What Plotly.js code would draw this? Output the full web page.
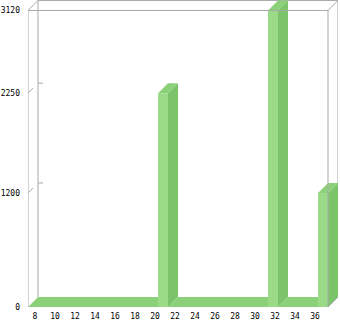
<!DOCTYPE html>
<html>
<head>
<meta charset="utf-8">
<script src="https://cdn.plot.ly/plotly-3.0.1.min.js"></script>
<style>
  html, body { margin: 0; padding: 0; background: #ffffff; }
  #chart { width: 340px; height: 321px; }
</style>
</head>
<body>
<div id="chart"></div>
<script>
// Column categories and their values
const categories = [8, 9, 10, 11, 12, 13, 14, 15, 16, 17, 18, 19, 20, 21, 22,
                    23, 24, 25, 26, 27, 28, 29, 30, 31, 32, 33, 34, 35, 36, 37];
const values = [0, 0, 0, 0, 0, 0, 0, 0, 0, 0, 0, 0, 0, 2250, 0,
                0, 0, 0, 0, 0, 0, 0, 0, 0, 3120, 0, 0, 0, 0, 1200];

// Axis ticks
const xTickVals = [8, 10, 12, 14, 16, 18, 20, 22, 24, 26, 28, 30, 32, 34, 36];
const xTickText = ['8', '10', '12', '14', '16', '18', '20', '22', '24', '26', '28', '30', '32', '34', '36'];
const yTickVals = [0, 1200, 2250, 3120];
const yTickText = ['0', '1200', '2250', '3120'];

// Extrusion of the pseudo-3D columns (in data units)
const DX = 1;      // depth along x, one category
const DY = 105;    // depth along y, in value units
const HALF = 0.5;  // half column width

const xFront0 = categories[0] - HALF;
const xFront1 = categories[categories.length - 1] + HALF;
const yTop = yTickVals[yTickVals.length - 1];

const COLORS = {
  front: '#9bdb88',
  side: '#7cc46a',
  top: '#8dd07a',
  frame: '#a9a9a9'
};

// Build one polygon per column for each face, separated by gaps
const topX = [], topY = [], sideX = [], sideY = [], frontX = [], frontY = [];
categories.forEach((c, i) => {
  const v = values[i];
  const l = c - HALF, r = c + HALF;
  topX.push(l, l + DX, r + DX, r, l, null);
  topY.push(v, v + DY, v + DY, v, v, null);
  if (v > 0) {
    sideX.push(r, r + DX, r + DX, r, r, null);
    sideY.push(0, DY, v + DY, v, 0, null);
    frontX.push(l, r, r, l, l, null);
    frontY.push(0, 0, v, v, 0, null);
  }
});

function face(x, y, color) {
  return {
    type: 'scatter', mode: 'lines', x: x, y: y,
    fill: 'toself', fillcolor: color,
    line: { width: 0, color: color },
    hoverinfo: 'skip', showlegend: false
  };
}

const traces = [
  face(topX, topY, COLORS.top),
  face(sideX, sideY, COLORS.side),
  face(frontX, frontY, COLORS.front)
];

function seg(x0, y0, x1, y1, layer) {
  return {
    type: 'line', xref: 'x', yref: 'y', x0: x0, y0: y0, x1: x1, y1: y1,
    line: { color: COLORS.frame, width: 1 }, layer: layer
  };
}

const shapes = [
  // back wall edges, behind the columns
  seg(xFront0 + DX, DY, xFront0 + DX, yTop + DY, 'below'),
  seg(xFront0 + DX, yTop + DY, xFront1 + DX, yTop + DY, 'below'),
  seg(xFront1 + DX, DY, xFront1 + DX, yTop + DY, 'below'),
  // front edges, over the columns
  seg(xFront0, 0, xFront0, yTop, 'above'),
  seg(xFront0, yTop, xFront1, yTop, 'above'),
  seg(xFront1, 0, xFront1, yTop, 'above'),
  seg(xFront0, yTop, xFront0 + DX, yTop + DY, 'above'),
  seg(xFront1, yTop, xFront1 + DX, yTop + DY, 'above'),
  seg(xFront1, 0, xFront1 + DX, DY, 'above')
];
// tick marks: short diagonal on the front edge, short dash on the back wall
yTickVals.forEach(v => {
  if (v > 0 && v < yTop) {
    shapes.push(seg(xFront0, v, xFront0 + DX * 0.5, v + DY * 0.5, 'above'));
    shapes.push(seg(xFront0 + DX, v + DY, xFront0 + DX * 1.5, v + DY, 'below'));
  }
});

const tickFont = { family: 'DejaVu Sans Mono, monospace', size: 8, color: '#000000' };

const layout = {
  width: 340, height: 321,
  margin: { l: 28, r: 2, t: 0, b: 14, pad: 0 },
  paper_bgcolor: '#ffffff', plot_bgcolor: '#ffffff',
  showlegend: false,
  xaxis: {
    range: [xFront0, xFront1 + DX],
    showgrid: false, zeroline: false, showline: false,
    tickmode: 'array', tickvals: xTickVals, ticktext: xTickText,
    ticks: '', tickfont: tickFont, ticklabelshift: 2, ticklabelstandoff: 3,
    fixedrange: true
  },
  yaxis: {
    range: [0, yTop + DY + 5],
    showgrid: false, zeroline: false, showline: false,
    tickmode: 'array', tickvals: yTickVals, ticktext: yTickText,
    ticks: '', tickfont: tickFont, ticklabelstandoff: 7, fixedrange: true
  },
  shapes: shapes,
  hovermode: false
};

Plotly.newPlot('chart', traces, layout, { displayModeBar: false, staticPlot: true });
</script>
</body>
</html>
